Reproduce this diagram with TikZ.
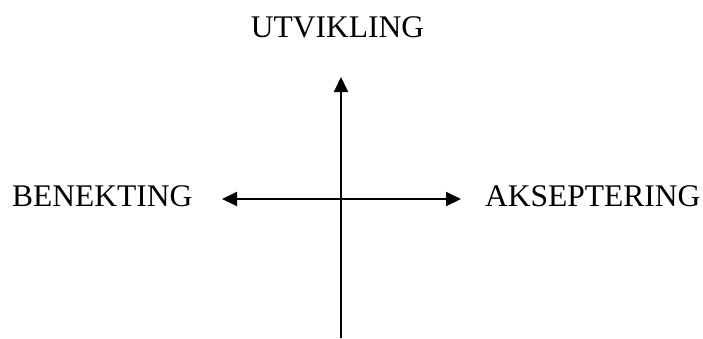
\documentclass[tikz,border=0pt]{standalone}
\usepackage{fontspec}
\setmainfont{Liberation Serif}
\usetikzlibrary{arrows.meta}
\begin{document}
\begin{tikzpicture}[x=1pt,y=-1pt,
  lbl/.style={inner sep=0pt,font=\fontsize{31.5}{36}\selectfont},
  tip/.tip={Triangle[length=15pt,width=14pt]},
  axis/.style={line width=2pt,-tip},
  axis2/.style={line width=2pt,tip-tip}]
\useasboundingbox (0,0) rectangle (703,338);
\node[lbl,anchor=base] (utv) at (337.5,37) {UTVIKLING};
\node[lbl,anchor=base west] (ben) at (12,206) {BENEKTING};
\node[lbl,anchor=base west] (aks) at (485,206) {AKSEPTERING};
\coordinate (L) at (222,199);
\coordinate (R) at (461,199);
\coordinate (T) at (341,77);
\coordinate (B) at (341,338);
\draw[axis2] (L) -- (R);
\draw[axis] (B) -- (T);
\end{tikzpicture}
\end{document}
